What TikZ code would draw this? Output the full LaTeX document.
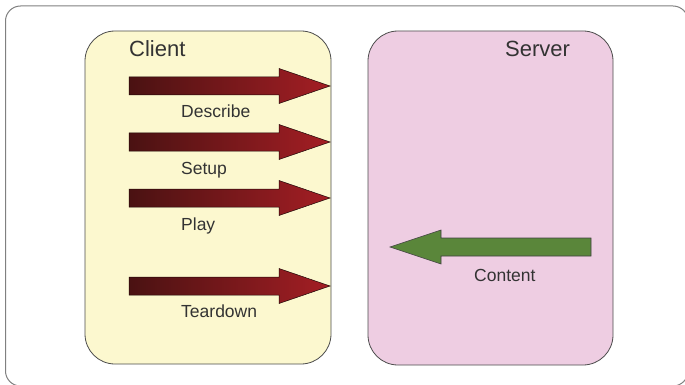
\documentclass[tikz,border=0pt]{standalone}
\usepackage{fontspec}
\setmainfont{Liberation Sans}
\begin{document}
\begin{tikzpicture}[x=1pt,y=-1pt,
  panel/.style={draw=black!70, line width=0.8pt, rounded corners=30pt},
  title/.style={anchor=base west, inner sep=0pt, text=black!80, font=\fontsize{22}{24}\selectfont},
  lbl/.style={anchor=base west, inner sep=0pt, text=black!80, font=\fontsize{17.5}{20}\selectfont},
  redarrow/.style={left color=arrowdark, right color=arrowred, draw=black!60!arrowdark, line width=0.5pt},
  greenarrow/.style={fill=arrowgreen, draw=black!75, line width=0.6pt}
]
\definecolor{clientfill}{HTML}{FCF8CF}
\definecolor{serverfill}{HTML}{EECDE2}
\definecolor{arrowdark}{HTML}{4A1212}
\definecolor{arrowred}{HTML}{A41E24}
\definecolor{arrowgreen}{HTML}{5A863A}
\useasboundingbox (0,0) rectangle (685,385);
\clip (0,0) rectangle (685,385);
% outer frame
\draw[draw=black!50, line width=1pt, rounded corners=15pt] (5.5,6) rectangle (688,386);
% panels
\draw[panel, fill=clientfill] (85,31) rectangle (331,364);
\draw[panel, fill=serverfill] (368,31) rectangle (613,365);
\node[title] (client) at (129,57) {Client};
\node[title] (server) at (505,57) {Server};
% red arrows (client -> server)
\foreach \y/\n in {86/a1,142/a2,198/a3,286/a4}{
  \shade[redarrow] (129,\y-9) -- (279,\y-9) -- (279,\y-17.5) -- (330,\y) -- (279,\y+17.5) -- (279,\y+9) -- (129,\y+9) -- cycle;
}
\node[lbl] (describe) at (181,118) {Describe};
\node[lbl] (setup) at (181,174) {Setup};
\node[lbl] (play) at (181,230) {Play};
\node[lbl] (teardown) at (181,317) {Teardown};
% green arrow (server -> client)
\draw[greenarrow] (591,238) -- (441,238) -- (441,230) -- (390,247) -- (441,264) -- (441,256) -- (591,256) -- cycle;
\node[lbl] (content) at (474,281) {Content};
\end{tikzpicture}
\end{document}
